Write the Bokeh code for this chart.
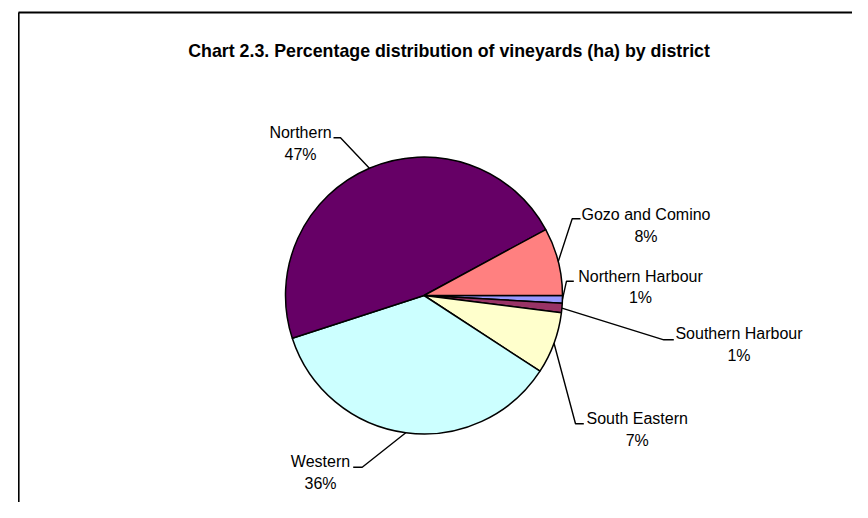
import math
from bokeh.plotting import figure
from bokeh.models import Range1d, ColumnDataSource
from bokeh.core.properties import value
from bokeh.embed import file_html
from bokeh.resources import INLINE

# ---- data ----
districts = ["Northern Harbour", "Southern Harbour", "South Eastern", "Western", "Northern", "Gozo and Comino"]
shares = [0.9, 1.1, 7.2, 35.8, 47.1, 7.9]
colors = ["#9999FF", "#993366", "#FFFFCC", "#CCFFFF", "#660066", "#FF8080"]
title = "Chart 2.3.  Percentage distribution of vineyards (ha) by district"

# ---- layout (page pixel coordinates) ----
cx, cy, r = 423.5, 295.0, 138.5
label_x = [640.0, 738.5, 636.7, 320.0, 300.0, 645.5]
label_base = [275.8, 333.0, 418.2, 461.4, 132.4, 214.0]
line_gap = 21.6
elbow = [(566.0, 280.7), (663.3, 339.3), (575.0, 423.3), (361.7, 466.7), (340.0, 137.3), (571.7, 218.3)]
tail = [(573.3, 280.7), (673.3, 339.3), (583.3, 423.3), (352.7, 466.7), (333.0, 137.3), (580.0, 218.3)]

W, H = 852, 502
p = figure(width=W, height=H, x_range=Range1d(0, W), y_range=Range1d(-H, 0),
           output_backend="svg", toolbar_location=None, min_border=0,
           min_border_left=0, min_border_right=0, min_border_top=0, min_border_bottom=0)
p.axis.visible = False
p.grid.visible = False
p.outline_line_color = None
p.background_fill_color = "white"
p.border_fill_color = "white"

# frame of the chart area
p.line(x=[18, W], y=[-12, -12], line_color="black", line_width=2)
p.line(x=[18.3, 18.3], y=[-12, -H], line_color="black", line_width=1.6)

# wedges
total = sum(shares)
starts, ends, mids = [], [], []
cum = 0.0
for v in shares:
    a0 = cum / total * 2 * math.pi
    cum += v
    a1 = cum / total * 2 * math.pi
    starts.append(-a1)
    ends.append(-a0)
    mids.append(-(a0 + a1) / 2)

src = ColumnDataSource(dict(start=starts, end=ends, color=colors, name=districts))
p.wedge(x=cx, y=-cy, radius=r, start_angle="start", end_angle="end", direction="anticlock",
        fill_color="color", line_color="black", line_width=1.5, source=src)

# leader lines
xs, ys = [], []
for m, (ex, ey), (tx, ty) in zip(mids, elbow, tail):
    rx = cx + r * math.cos(m)
    ry = -cy + r * math.sin(m)
    xs.append([rx, ex, tx])
    ys.append([ry, -ey, -ty])
p.multi_line(xs=xs, ys=ys, line_color="black", line_width=1.4)

# labels
pct = [f"{round(v / total * 100)}%" for v in shares]
lab = ColumnDataSource(dict(x=label_x, y1=[-b for b in label_base], y2=[-(b + line_gap) for b in label_base],
                            name=districts, pct=pct))
p.text(x="x", y="y1", text="name", source=lab, text_align="center", text_baseline="alphabetic",
       text_font=value("Liberation Sans"), text_font_size="16px", text_color="black")
p.text(x="x", y="y2", text="pct", source=lab, text_align="center", text_baseline="alphabetic",
       text_font=value("Liberation Sans"), text_font_size="16px", text_color="black")

# title
p.text(x=[451], y=[-50.7], text=[title], text_align="center", text_baseline="alphabetic",
       text_font=value("Liberation Sans"), text_font_size="17.8px", text_font_style="bold",
       text_color="black")

open("out.html", "w").write(file_html(p, INLINE))
